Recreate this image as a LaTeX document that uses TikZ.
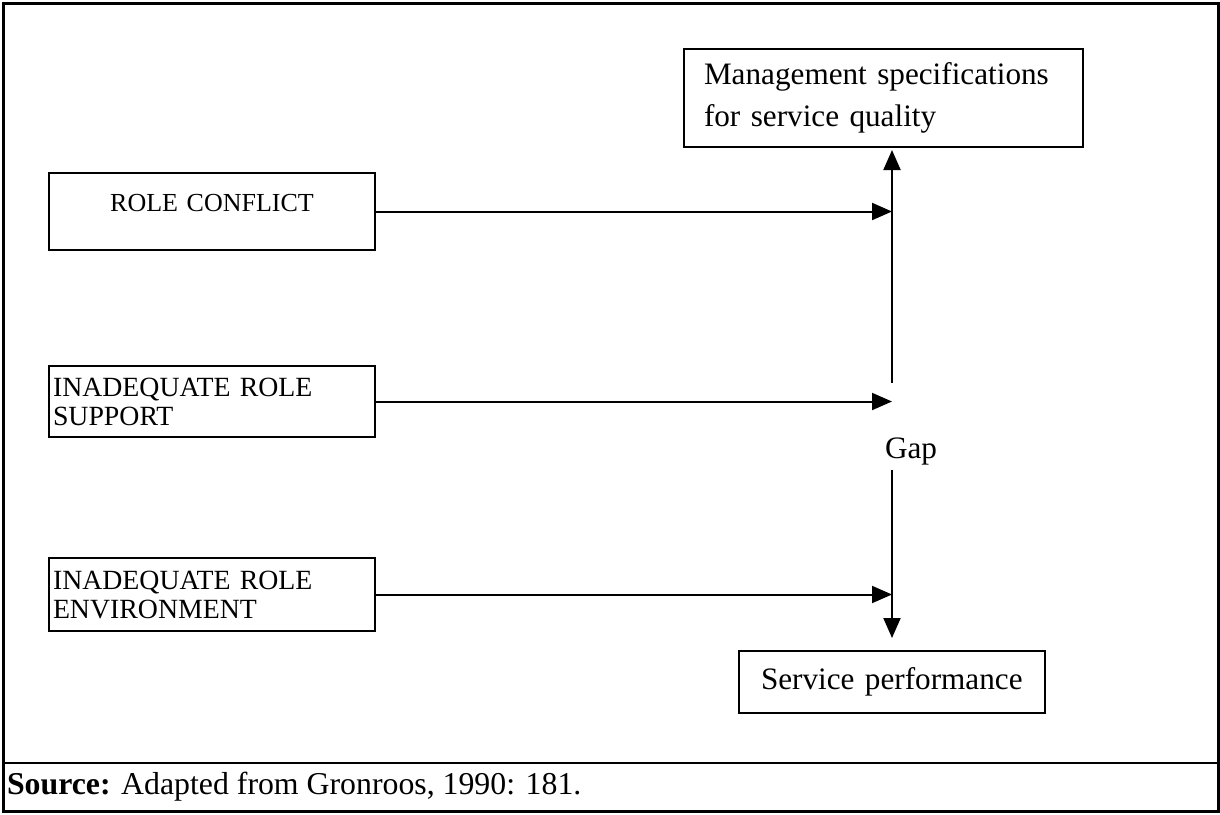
\documentclass[tikz,border=0pt]{standalone}
\usepackage{fontspec}
\setmainfont{Liberation Serif}
\usetikzlibrary{arrows.meta}
\begin{document}
\begin{tikzpicture}[x=0.5pt, y=-0.5pt, line width=1pt,
  cause/.style = {draw, anchor=north west, inner xsep=2pt, inner ysep=0pt, text width=159pt, align=left, font=\fontsize{13.9}{14.5}\selectfont},
  result/.style = {draw, anchor=north west, inner ysep=0pt, align=left, font=\fontsize{15.6}{21}\selectfont},
  tip/.style = {-{Triangle[length=10pt,width=8.5pt]}}]
  \useasboundingbox (0,0) rectangle (1220,814);
  \draw[line width=1.5pt] (3,3) rectangle (1218,811);
  \node[cause, align=center, font=\fontsize{13}{14.5}\selectfont, text height=19pt, text depth=19.5pt] (1) at (48,172) {ROLE CONFLICT};
  \node[cause, minimum height=35.5pt] (2) at (48,365) {INADEQUATE ROLE\\SUPPORT};
  \node[cause, minimum height=36.5pt] (3) at (48,557) {INADEQUATE ROLE\\ENVIRONMENT};
  \node[result, inner xsep=10pt, text width=179.5pt, minimum height=49pt] (4) at (683,48) {Management specifications\\for service quality};
  \node[result, inner xsep=11pt, text width=131pt, minimum height=31pt] (5) at (738,650) {Service performance};
  \node[font=\fontsize{15.6}{21}\selectfont, inner sep=0pt] (6) at (911,451) {Gap};
  \coordinate (7) at (892,383);
  \draw[tip] (1.east) -- (1.east -| 7);
  \draw[tip] (2.east) -- (2.east -| 7);
  \draw[tip] (3.east) -- (3.east -| 7);
  \draw[tip, shorten >=1pt] (7) -- (7 |- 4.south);
  \draw[tip, shorten >=6pt] ([yshift=-2pt]6.south -| 7) -- (7 |- 5.north);
  \draw (3,763) -- (1218,763);
  \node[anchor=west, inner sep=0pt, font=\fontsize{15.9}{21}\selectfont] (8) at (6,787) {\textbf{Source:} Adapted from Gronroos, 1990: 181.};
\end{tikzpicture}
\end{document}
